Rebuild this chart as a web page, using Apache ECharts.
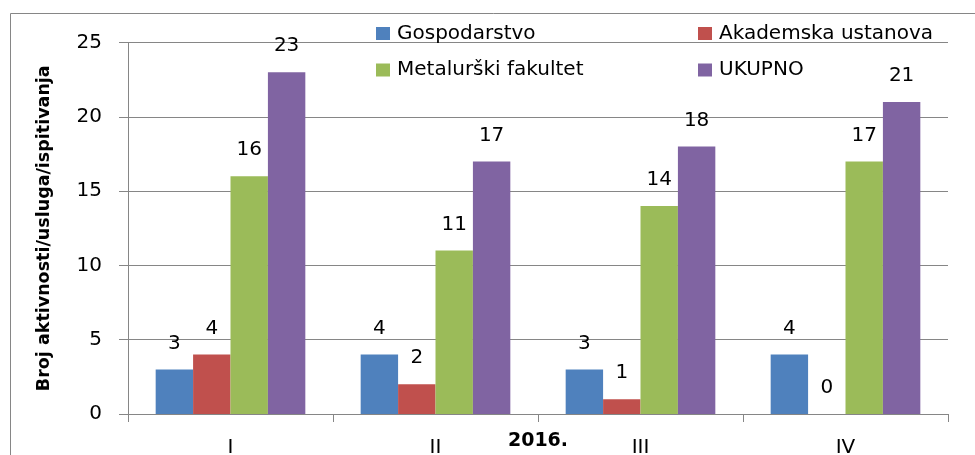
<!DOCTYPE html>
<html>
<head>
<meta charset="utf-8">
<script src="https://cdn.jsdelivr.net/npm/echarts@6/dist/echarts.min.js"></script>
<style>
html,body{margin:0;padding:0;background:#fff;}
#chart{width:975px;height:455px;}
</style>
</head>
<body>
<div id="chart"></div>
<script>
const categories = ['I', 'II', 'III', 'IV'];
const seriesNames = ['Gospodarstvo', 'Akademska ustanova', 'Metalurški fakultet', 'UKUPNO'];
const gospodarstvo = [3, 4, 3, 4];
const akademska = [4, 2, 1, 0];
const metalurski = [16, 11, 14, 17];
const ukupno = [23, 17, 18, 21];
const yTicks = [0, 5, 10, 15, 20, 25];
const yAxisTitle = 'Broj aktivnosti/usluga/ispitivanja';
const xAxisTitle = '2016.';

const colors = ['#4F81BD', '#C0504D', '#9BBB59', '#8064A2'];
const values = [gospodarstvo, akademska, metalurski, ukupno];
const FONT = '"DejaVu Sans", sans-serif';

const chart = echarts.init(document.getElementById('chart'), null, {renderer: 'canvas'});

const legendText = {fontFamily: FONT, fontSize: 20, color: '#000', lineHeight: 20, padding: [0, 0, 0, 2]};

chart.setOption({
  animation: false,
  color: colors,
  textStyle: {fontFamily: FONT},
  graphic: [{
    type: 'rect',
    shape: {x: 10.5, y: 13.5, width: 1200, height: 600},
    style: {fill: 'none', stroke: '#868686', lineWidth: 1},
    silent: true, z: -1
  }],
  legend: [{
    orient: 'vertical',
    left: 376, top: 23.5, padding: 0,
    itemWidth: 14, itemHeight: 13, itemGap: 16.5,
    icon: 'rect',
    textStyle: legendText,
    data: [seriesNames[0], seriesNames[2]]
  }, {
    orient: 'vertical',
    left: 698, top: 23.5, padding: 0,
    itemWidth: 14, itemHeight: 13, itemGap: 16.5,
    icon: 'rect',
    textStyle: legendText,
    data: [seriesNames[1], seriesNames[3]]
  }],
  grid: {left: 128, right: 27, top: 42.5, bottom: 41, containLabel: false, outerBoundsMode: 'none'},
  xAxis: {
    type: 'category',
    data: categories,
    name: xAxisTitle,
    nameLocation: 'middle',
    nameGap: 18,
    nameMoveOverlap: false,
    nameTextStyle: {fontFamily: FONT, fontSize: 19, fontWeight: 'bold', color: '#000'},
    axisLine: {lineStyle: {color: '#868686', width: 1}},
    axisTick: {show: true, length: 8, lineStyle: {color: '#868686'}},
    axisLabel: {fontFamily: FONT, fontSize: 20, color: '#000', margin: 24}
  },
  yAxis: {
    type: 'value',
    min: yTicks[0], max: yTicks[yTicks.length - 1], interval: 5,
    name: yAxisTitle,
    nameLocation: 'middle',
    nameRotate: 90,
    nameGap: 75,
    nameMoveOverlap: false,
    nameTextStyle: {fontFamily: FONT, fontSize: 17.5, fontWeight: 'bold', color: '#000'},
    axisLine: {show: true, lineStyle: {color: '#868686', width: 1}},
    axisTick: {show: true, length: 9, lineStyle: {color: '#868686'}},
    splitLine: {show: true, lineStyle: {color: '#868686', width: 1}},
    axisLabel: {fontFamily: FONT, fontSize: 20, color: '#000', margin: 26}
  },
  series: seriesNames.map((name, i) => ({
    name: name,
    type: 'bar',
    data: values[i],
    barGap: '0%',
    barCategoryGap: '27%',
    itemStyle: {color: colors[i]},
    label: {show: true, position: 'top', distance: 16, fontFamily: FONT, fontSize: 20, color: '#000'}
  }))
});
</script>
</body>
</html>
